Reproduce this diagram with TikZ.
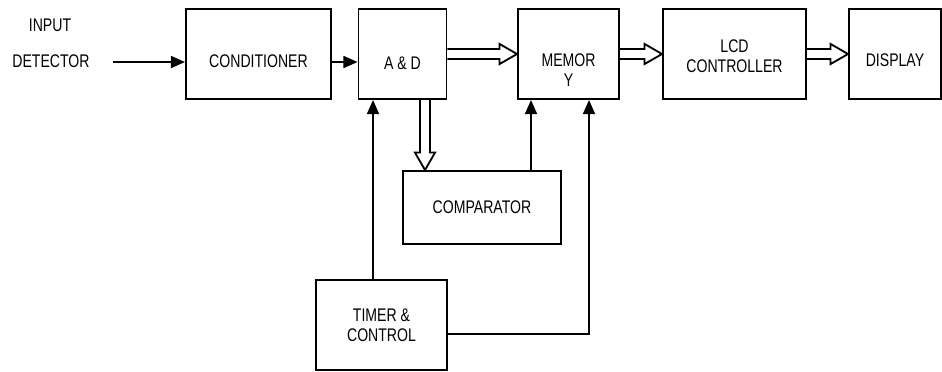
\documentclass[tikz,border=0pt]{standalone}
\usepackage{fontspec}
\setmainfont{Liberation Sans}[FakeStretch=0.77]
\usetikzlibrary{arrows.meta,positioning,calc}

\begin{document}
\begin{tikzpicture}[x=0.025cm,y=-0.025cm,
  every node/.style={font=\fontsize{13pt}{14.5pt}\selectfont},
  box/.style={draw,line width=1.4pt,minimum height=2.25cm,align=center,inner sep=1pt},
  arr/.style={-{Triangle[length=10pt,width=8.5pt]},line width=1.4pt},
  bus/.style={line width=1.3pt,line join=miter,to path={
      let \p1=($(\tikztotarget)-(\tikztostart)$),
          \n1={veclen(\x1,\y1)}, \n2={atan2(\y1,\x1)} in
      {[shift={(\tikztostart)},rotate=\n2]
        (0pt,-3.6pt) -- (\n1-12.5pt,-3.6pt) -- (\n1-12.5pt,-7.2pt) -- (\n1,0pt)
        -- (\n1-12.5pt,7.2pt) -- (\n1-12.5pt,3.6pt) -- (0pt,3.6pt)}}}]
  \useasboundingbox (0,0) rectangle (942,371);
  % top row
  \node[box,minimum width=3.625cm,text height=19.3pt,text depth=0pt] (cond) at (258.5,54) {CONDITIONER};
  \node[box,minimum width=2.2cm,text height=22.7pt,text depth=0pt] (ad) at (402.5,54) {A \& D};
  \node[box,minimum width=2.525cm,text height=46.4pt,text depth=0pt] (mem) at (568.5,54) {MEMOR\\Y};
  \node[box,minimum width=3.575cm,text height=26.6pt,text depth=0pt] (lcd) at (734.5,54) {LCD\\CONTROLLER};
  \node[box,minimum width=2.3cm,text height=17.9pt,text depth=0pt] (disp) at (895,54) {DISPLAY};
  % lower boxes
  \node[box,minimum width=3.95cm,minimum height=1.825cm] (comp) at (482,207.5) {COMPARATOR};
  \node[box,minimum width=3.275cm] (tc) at (381.5,325) {TIMER \&\\CONTROL};
  % input
  \node (inp) at (50,25) {INPUT};
  \node (det) at (51,61) {DETECTOR};
  \coordinate (in) at (113,62);
  \coordinate (ad-in) at ($(ad.south west)+(15.5,0)$);
  \coordinate (ad-out) at ($(ad.south)+(22.5,0)$);
  \coordinate (mem-a) at ($(mem.south west)+(14,0)$);
  \coordinate (mem-b) at ($(mem.south west)+(72,0)$);
  \coordinate (tc-out) at ($(tc.east)+(0,9)$);
  % connectors
  \draw[arr] (in) -- (in -| cond.west);
  \draw[arr] (in -| cond.east) -- (in -| ad.west);
  \draw[bus] (ad.east) to (mem.west);
  \draw[bus] (mem.east) to (lcd.west);
  \draw[bus] (lcd.east) to (disp.west);
  \draw[bus] (ad-out) to (ad-out |- comp.north);
  \draw[arr] (tc.north -| ad-in) -- (ad-in);
  \draw[arr] (comp.north -| mem-a) -- (mem-a);
  \draw[arr] (tc-out) -| (mem-b);
\end{tikzpicture}
\end{document}
